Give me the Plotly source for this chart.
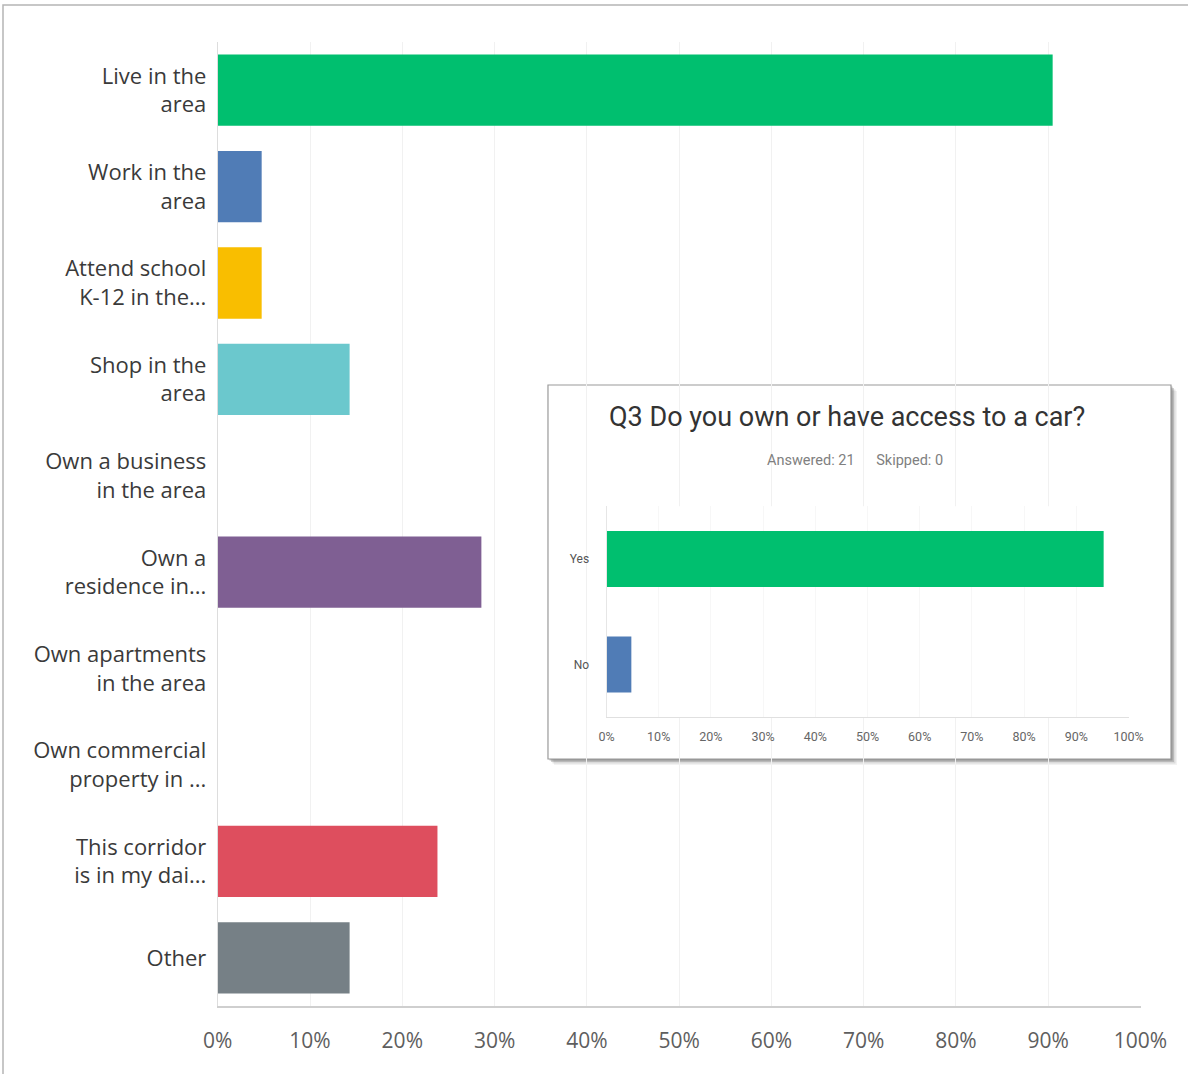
import plotly.graph_objects as go

# Q2 answers: why respondents are connected to the corridor (% of 21 respondents)
reasons = [
    "Live in the<br>area",
    "Work in the<br>area",
    "Attend school<br>K-12 in the...",
    "Shop in the<br>area",
    "Own a business<br>in the area",
    "Own a<br>residence in...",
    "Own apartments<br>in the area",
    "Own commercial<br>property in ...",
    "This corridor<br>is in my dai...",
    "Other",
]
reason_pct = [90.48, 4.76, 4.76, 14.29, 0, 28.57, 0, 0, 23.81, 14.29]
reason_colors = ["#00BF6F", "#507CB6", "#F9BE00", "#6BC8CD", "#FF8B4F",
                 "#7F5F93", "#D25F90", "#A3A3A3", "#DE4E5E", "#768086"]

# Q3 answers: car ownership / access
car_answers = ["Yes", "No"]
car_pct = [95.24, 4.76]
car_colors = ["#00BF6F", "#507CB6"]

q3_title = "Q3 Do you own or have access to a car?"
q3_counts = "Answered: 21&nbsp;&nbsp;&nbsp;&nbsp;&nbsp;&nbsp;Skipped: 0"

W, H = 1188, 1074
main_font = "Open Sans"
inset_font = "Roboto"

fig = go.Figure()

fig.add_trace(go.Bar(
    x=reason_pct, y=reasons, orientation="h",
    marker=dict(color=reason_colors, line=dict(width=0)),
    xaxis="x", yaxis="y", hoverinfo="x+y",
))

fig.add_trace(go.Bar(
    x=car_pct, y=car_answers, orientation="h", width=0.53,
    marker=dict(color=car_colors, line=dict(width=0)),
    xaxis="x2", yaxis="y2", hoverinfo="x+y",
))

# inset card (drawn in the inset subplot's own shape layer so it covers the main grid)
bx0, bx1 = -0.1121, 1.0814
by0, by1 = -0.1979, 1.5746
px_x, px_y = 1 / 522.0, 1 / 211.0
shapes = []
for off, op in [(6, 0.08), (4.5, 0.15), (3, 0.25), (1.5, 0.35)]:
    shapes.append(dict(
        type="rect", xref="x2 domain", yref="y2 domain", layer="below",
        x0=bx0 + off * px_x, x1=bx1 + off * px_x,
        y0=by0 - off * px_y, y1=by1 - off * px_y,
        fillcolor="#555555", opacity=op, line=dict(width=0),
    ))
shapes.append(dict(
    type="rect", xref="x2 domain", yref="y2 domain", layer="below",
    x0=bx0, x1=bx1, y0=by0, y1=by1,
    fillcolor="white", line=dict(color="#9a9a9a", width=1.2),
))
# outer page frame
shapes.append(dict(
    type="rect", xref="paper", yref="paper", layer="below",
    x0=3 / W, x1=1.02, y0=-0.02, y1=(H - 5) / H,
    fillcolor="rgba(0,0,0,0)", line=dict(color="#b5b5b5", width=1.5),
))

fig.update_layout(
    width=W, height=H, autosize=False,
    margin=dict(l=0, r=0, t=0, b=0, pad=0, autoexpand=False),
    paper_bgcolor="white", plot_bgcolor="white",
    showlegend=False,
    bargap=0.26,
    shapes=shapes,
    xaxis=dict(
        domain=[217.75 / W, 1140.5 / W], range=[0, 100], dtick=10,
        ticksuffix="%", showgrid=True, gridcolor="#f1f1f1", gridwidth=1,
        zeroline=False, showline=True, linecolor="#cfcfcf", linewidth=1.5,
        ticks="", ticklabelstandoff=15, automargin=False,
        tickfont=dict(family=main_font, size=21, color="#5e5e5e"),
        anchor="y", fixedrange=True,
    ),
    yaxis=dict(
        domain=[(H - 1006) / H, (H - 42) / H],
        categoryorder="array", categoryarray=reasons, autorange="reversed",
        showgrid=False, zeroline=False, showline=True, linecolor="#dddddd",
        linewidth=1, ticks="", ticklabelstandoff=6, automargin=False,
        tickfont=dict(family=main_font, size=22, color="#3a3a3a"),
        anchor="x", fixedrange=True,
    ),
    xaxis2=dict(
        domain=[606.5 / W, 1128.5 / W], range=[0, 100], dtick=10,
        ticksuffix="%", showgrid=True, gridcolor="#f7f7f7", gridwidth=1,
        zeroline=False, showline=True, linecolor="#e0e0e0", linewidth=1,
        ticks="", ticklabelstandoff=8, automargin=False,
        tickfont=dict(family=inset_font, size=12.5, color="#666666"),
        anchor="y2", fixedrange=True,
    ),
    yaxis2=dict(
        domain=[(H - 717.25) / H, (H - 506.25) / H],
        categoryorder="array", categoryarray=car_answers, autorange="reversed",
        showgrid=False, zeroline=False, showline=True, linecolor="#e6e6e6",
        linewidth=1, ticks="", ticklabelstandoff=14, automargin=False,
        tickfont=dict(family=inset_font, size=12, color="#555555"),
        anchor="x2", fixedrange=True,
    ),
    annotations=[
        dict(text=q3_title, xref="paper", yref="paper",
             x=847 / W, y=(H - 417) / H, xanchor="center", yanchor="middle",
             showarrow=False,
             font=dict(family=inset_font, size=27, color="#333333")),
        dict(text=q3_counts, xref="paper", yref="paper",
             x=855 / W, y=(H - 460) / H, xanchor="center", yanchor="middle",
             showarrow=False,
             font=dict(family=inset_font, size=14.5, color="#808080")),
    ],
)

fig.write_html("out.html", config={"responsive": False})
